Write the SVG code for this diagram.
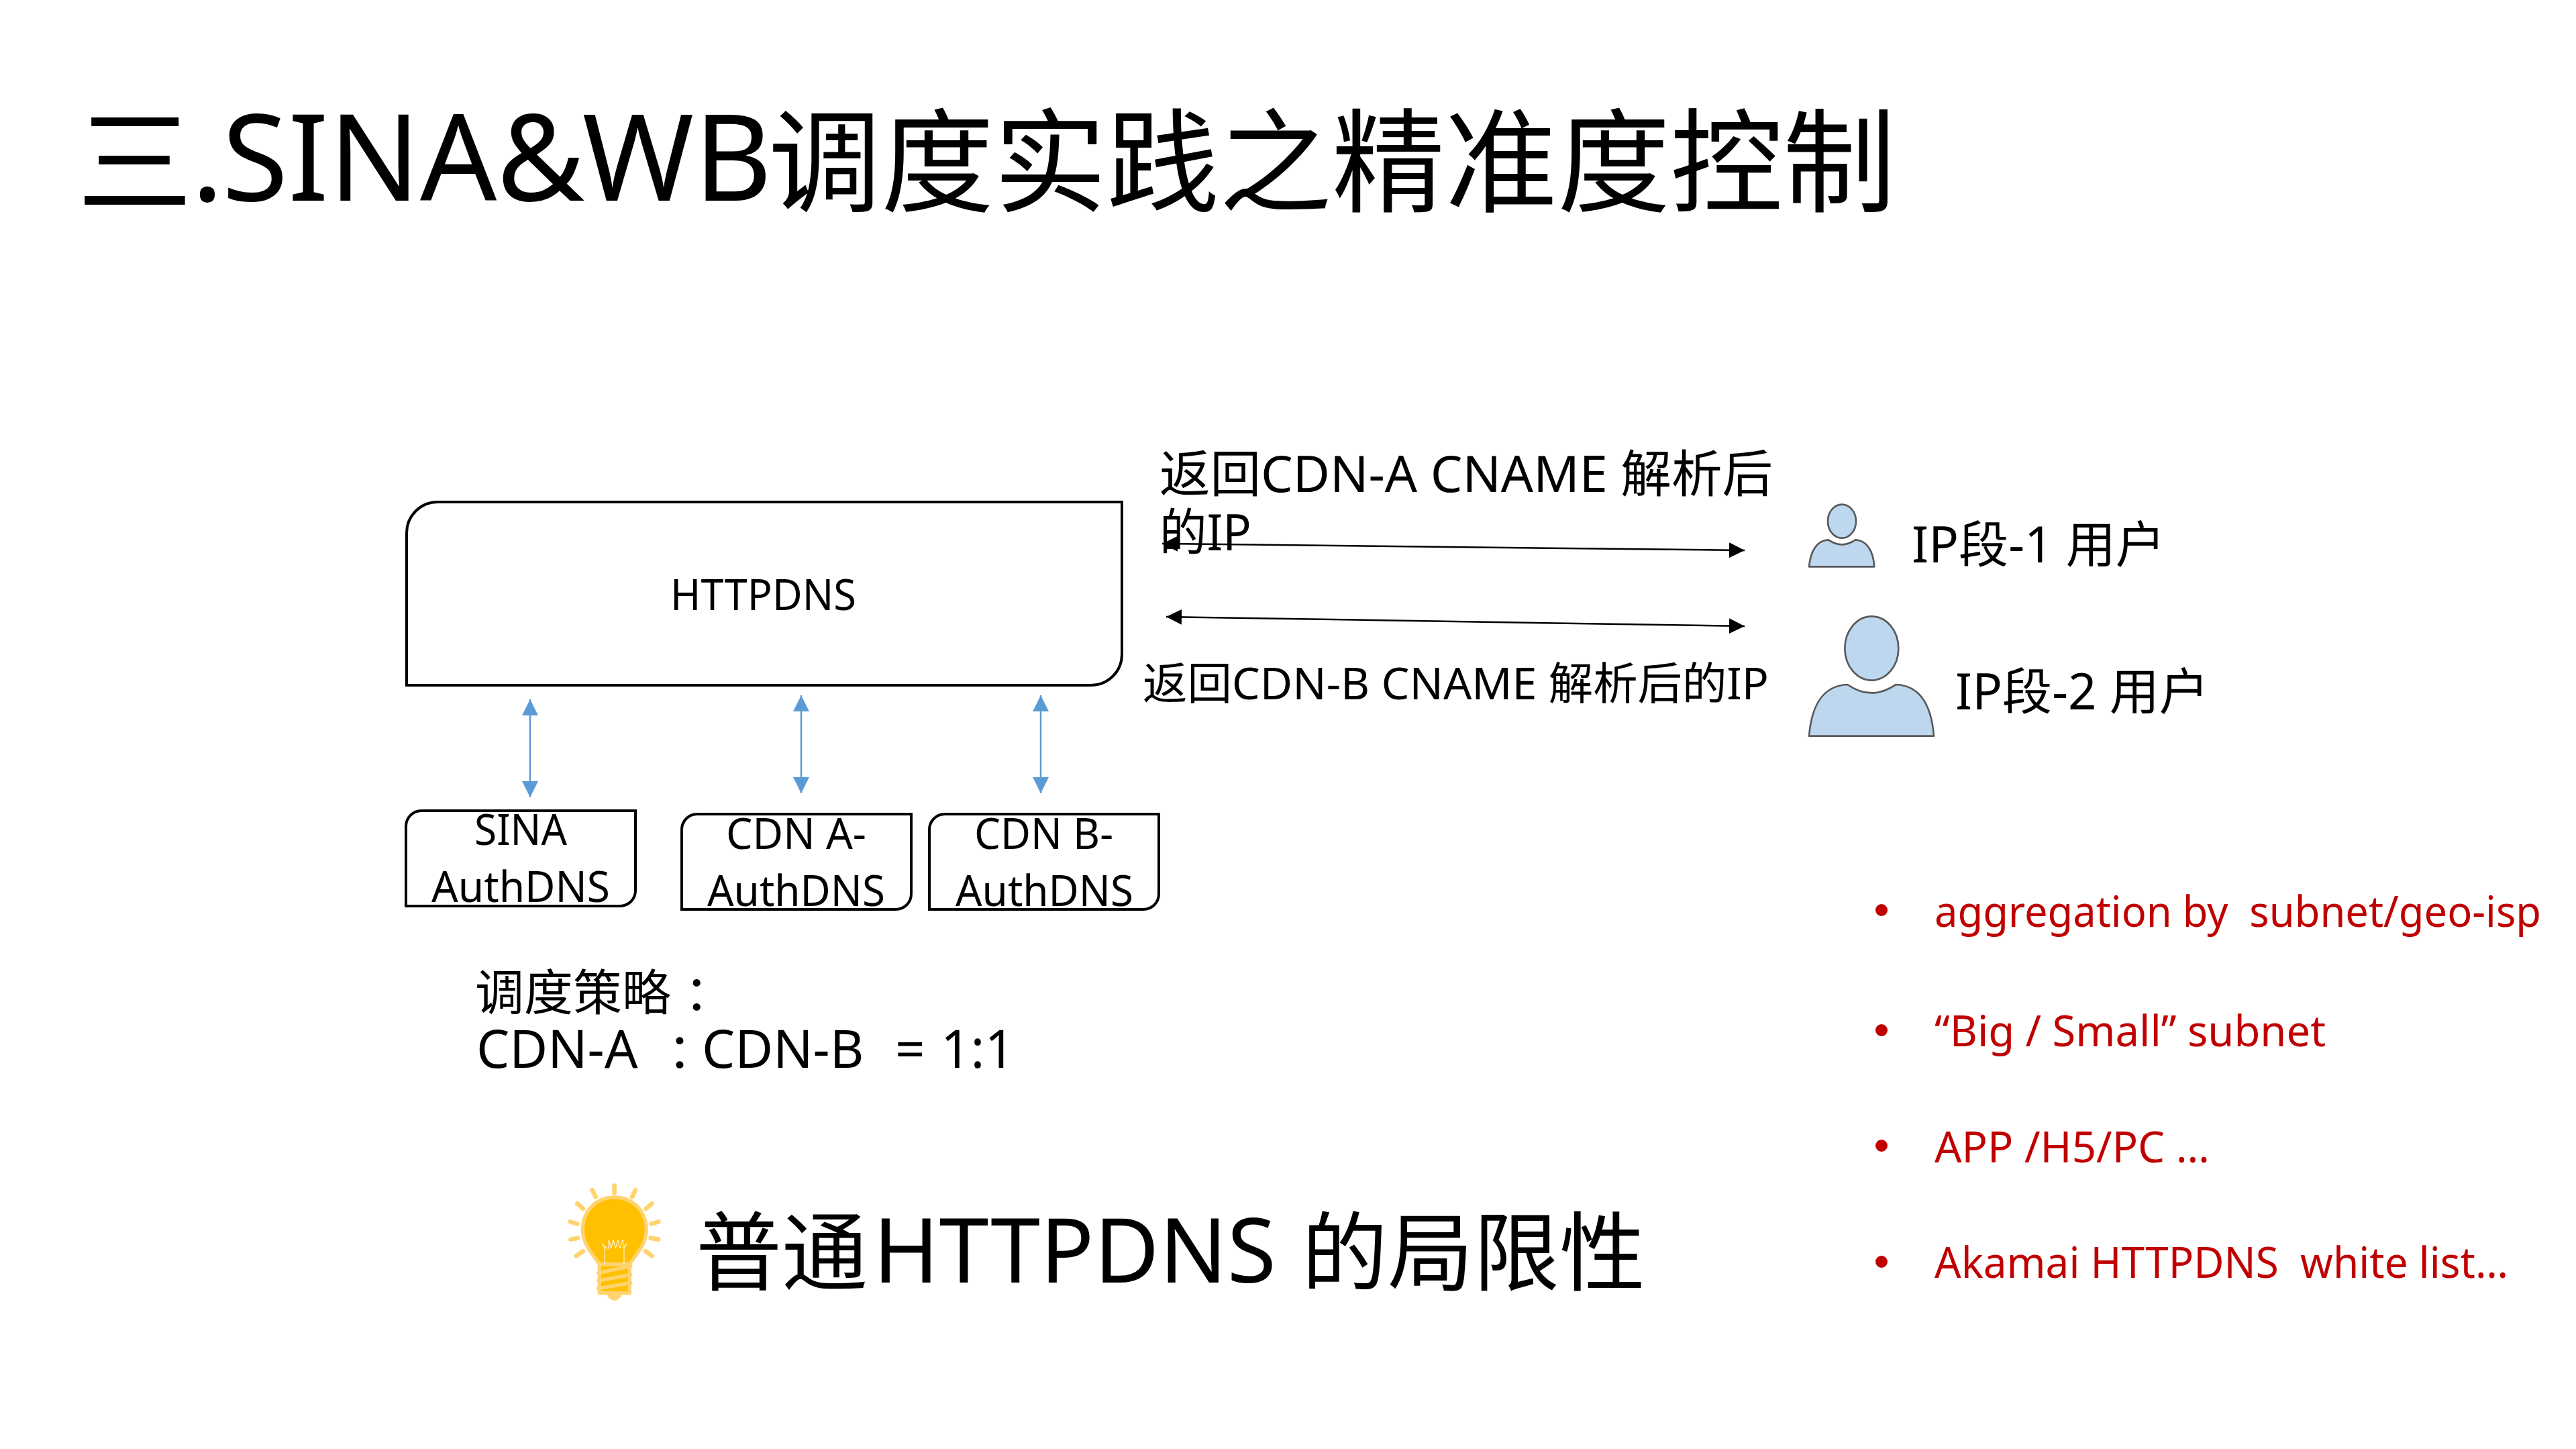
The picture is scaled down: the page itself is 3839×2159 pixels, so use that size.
<svg xmlns="http://www.w3.org/2000/svg" width="3839" height="2159" viewBox="0 0 3839 2159">
<defs>
<marker id="blk" viewBox="0 0 10 10" refX="10" refY="5" markerWidth="23" markerHeight="23" markerUnits="userSpaceOnUse" orient="auto-start-reverse"><path d="M0 0L10 5L0 10Z" fill="#000"/></marker>
<marker id="blu" viewBox="0 0 10 10" refX="10" refY="5" markerWidth="24" markerHeight="24" markerUnits="userSpaceOnUse" orient="auto-start-reverse"><path d="M0 0L10 5L0 10Z" fill="#5b9bd5"/></marker>
</defs>
<style>
text{font-family:"Noto Sans","Noto Sans CJK SC",sans-serif;fill:#000;white-space:pre}
.box{fill:#fff;stroke:#000;stroke-width:4}
.ba{stroke:#000;stroke-width:2.5;fill:none;marker-start:url(#blk);marker-end:url(#blk)}
.bl{stroke:#5b9bd5;stroke-width:2.5;fill:none;marker-start:url(#blu);marker-end:url(#blu)}
.m{font-size:64px}
.red{fill:#c00000;font-size:64px}
.dot{fill:#c00000}
.p{fill:#bdd7ee;stroke:#595959;stroke-width:8;stroke-linejoin:round}
</style>
<rect width="3839" height="2159" fill="#fff"/>
<text id="title" y="303" font-size="168"><tspan x="115" font-size="172">三</tspan><tspan x="285" y="299" font-size="179">.</tspan><tspan x="331" y="299" font-size="179">SINA&amp;WB</tspan><tspan x="1145" y="303">调度实践之精准度控制</tspan></text>
<g id="connectors">
<line class="bl" x1="790" y1="1042" x2="790" y2="1188"/>
<line class="bl" x1="1194" y1="1036" x2="1194" y2="1182"/>
<line class="bl" x1="1551" y1="1036" x2="1551" y2="1182"/>
<line class="ba" x1="1732" y1="810" x2="2600" y2="820"/>
<line class="ba" x1="1738" y1="919" x2="2600" y2="933"/>
</g>
<g id="httpdns">
<path class="box" d="M606 1021V794A46 46 0 0 1 652 748H1672V975A46 46 0 0 1 1626 1021Z"/>
<text class="m" x="999" y="909" textLength="277" lengthAdjust="spacingAndGlyphs">HTTPDNS</text>
</g>
<g id="sina">
<path class="box" d="M605 1350V1231A23 23 0 0 1 628 1208H947V1327A23 23 0 0 1 924 1350Z"/>
<text class="m" x="707" y="1259" textLength="138" lengthAdjust="spacingAndGlyphs">SINA</text><text class="m" x="643" y="1344" textLength="266" lengthAdjust="spacingAndGlyphs">AuthDNS</text>
</g>
<g id="cdna">
<path class="box" d="M1016 1355V1236A23 23 0 0 1 1039 1213H1358V1332A23 23 0 0 1 1335 1355Z"/>
<text class="m" x="1082" y="1265" textLength="209" lengthAdjust="spacingAndGlyphs">CDN A-</text><text class="m" x="1054" y="1350" textLength="265" lengthAdjust="spacingAndGlyphs">AuthDNS</text>
</g>
<g id="cdnb">
<path class="box" d="M1385 1355V1236A23 23 0 0 1 1408 1213H1727V1332A23 23 0 0 1 1704 1355Z"/>
<text class="m" x="1452" y="1265" textLength="207" lengthAdjust="spacingAndGlyphs">CDN B-</text><text class="m" x="1424" y="1350" textLength="265" lengthAdjust="spacingAndGlyphs">AuthDNS</text>
</g>
<g id="label-a">
<text x="1728" y="733" font-size="75" textLength="914" lengthAdjust="spacingAndGlyphs">返回CDN-A CNAME 解析后</text>
<text x="1728" y="820" font-size="75" textLength="137" lengthAdjust="spacingAndGlyphs">的IP</text>
</g>
<text id="label-b" x="1703" y="1042" font-size="66" textLength="933" lengthAdjust="spacingAndGlyphs">返回CDN-B CNAME 解析后的IP</text>
<g id="user1">
<g transform="translate(2680,740) scale(.3333)">
<path class="p" d="M48 313C55 240 85 195 135 193Q195 235 255 193C305 195 335 240 340 313Z"/>
<ellipse class="p" cx="195" cy="110" rx="63" ry="75"/>
</g>
<text x="2849" y="838" font-size="74" textLength="378" lengthAdjust="spacingAndGlyphs">IP段-1 用户</text>
</g>
<g id="user2">
<g transform="translate(2680,740) scale(.3333)">
<path class="p" d="M48 1070C60 930 110 845 220 840Q328 915 437 840C545 845 595 930 606 1070Z"/>
<ellipse class="p" cx="328" cy="678" rx="120" ry="143"/>
</g>
<text x="2914" y="1057" font-size="74" textLength="378" lengthAdjust="spacingAndGlyphs">IP段-2 用户</text>
</g>
<g id="strategy">
<text y="1505" font-size="73"><tspan x="708">调度策略</tspan><tspan x="1020">：</tspan></text>
<text y="1591" font-size="78"><tspan x="710">CDN-A</tspan><tspan x="995" font-size="72">：</tspan><tspan x="1046">CDN-B</tspan><tspan x="1334">=</tspan><tspan x="1402">1:1</tspan></text>
</g>
<g id="bulb" transform="translate(800,1740) scale(.3333)">
<path d="M347 132C265 132 205 195 205 278C205 330 235 370 280 430H415C460 370 490 330 490 278C490 195 430 132 347 132Z" fill="#ffc000" stroke="#ffd36e" stroke-width="16"/>
<path d="M280 432H415V560H280Z" fill="#ffc000" stroke="#ffd36e" stroke-width="16" stroke-linejoin="round"/>
<path d="M323 572Q347 600 371 572Z" fill="#ffc000" stroke="#ffd36e" stroke-width="14" stroke-linejoin="round"/>
<path d="M275 470L420 440M275 505L420 478M275 540L420 515" fill="none" stroke="#ffd36e" stroke-width="16" stroke-linecap="round"/>
<path d="M347 80V112M248 100L263 130M441 100L426 130M181 160L207 183M515 160L488 183M149 241L181 251M544 241L512 251M151 320L183 314M543 320L509 314M177 394L206 373M515 394L486 373" fill="none" stroke="#ffd36e" stroke-width="20" stroke-linecap="round"/>
<path d="M303 428V360L292 338L310 360M390 428V360L402 338L385 360M300 350L320 362L322 322L332 360L342 322L352 360L362 322L372 360L384 322L388 350" fill="none" stroke="#fff" stroke-width="3"/>
</g>
<text id="limit" y="1913" font-size="128"><tspan x="1037">普通</tspan><tspan x="1301" y="1911" font-size="133">HTTPDNS</tspan><tspan x="1940" y="1913">的局限性</tspan></text>
<g id="notes">
<circle class="dot" cx="2804" cy="1356" r="9"/><text class="red" x="2883" y="1381" textLength="904" lengthAdjust="spacingAndGlyphs">aggregation by  subnet/geo-isp</text>
<circle class="dot" cx="2804" cy="1535" r="9"/><text class="red" x="2883" y="1559" textLength="583" lengthAdjust="spacingAndGlyphs">“Big / Small” subnet</text>
<circle class="dot" cx="2804" cy="1707" r="9"/><text class="red" x="2883" y="1732" textLength="410" lengthAdjust="spacingAndGlyphs">APP /H5/PC …</text>
<circle class="dot" cx="2804" cy="1880" r="9"/><text class="red" x="2883" y="1904" textLength="855" lengthAdjust="spacingAndGlyphs">Akamai HTTPDNS  white list…</text>
</g>
</svg>
